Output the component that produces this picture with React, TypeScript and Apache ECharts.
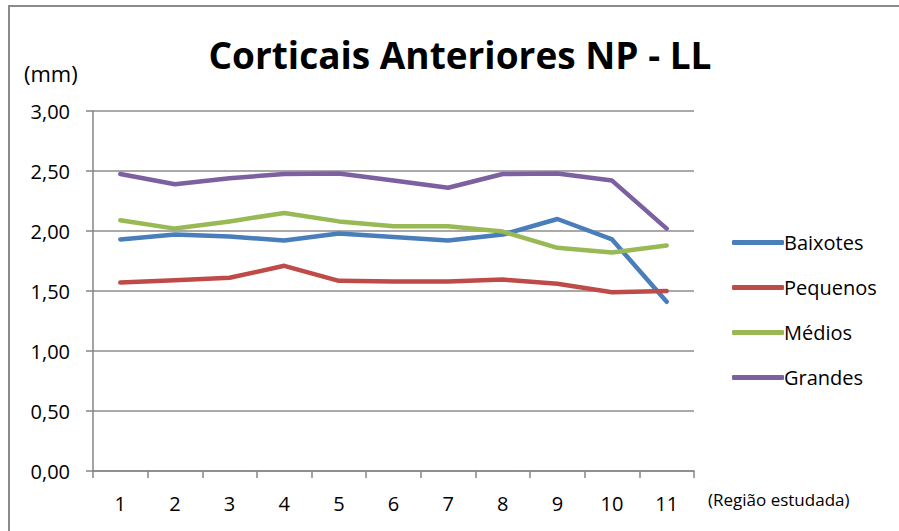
import React, { useEffect, useRef } from "react";
import * as echarts from "echarts";

const categories = ["1", "2", "3", "4", "5", "6", "7", "8", "9", "10", "11"];
const baixotes = [1.93, 1.97, 1.955, 1.92, 1.98, 1.95, 1.92, 1.97, 2.1, 1.93, 1.41];
const pequenos = [1.57, 1.59, 1.61, 1.71, 1.585, 1.58, 1.58, 1.595, 1.56, 1.49, 1.5];
const medios = [2.09, 2.02, 2.08, 2.15, 2.08, 2.04, 2.04, 1.995, 1.86, 1.82, 1.88];
const grandes = [2.475, 2.39, 2.44, 2.475, 2.48, 2.42, 2.36, 2.475, 2.48, 2.42, 2.02];
const seriesNames = ["Baixotes", "Pequenos", "Médios", "Grandes"];
const colors = ["#4A7EBB", "#BE4B48", "#98B954", "#7D60A0"];

const FONT = "'Open Sans', sans-serif";

export default function App() {
  const ref = useRef<HTMLDivElement>(null);
  useEffect(() => {
    if (!ref.current) return;
    const chart = echarts.init(ref.current, undefined, { renderer: "svg" });
    const data = [baixotes, pequenos, medios, grandes];
    chart.setOption({
      animation: false,
      backgroundColor: "#ffffff",
      textStyle: { fontFamily: FONT },
      grid: { left: 93, top: 111, width: 601, height: 360, containLabel: false },
      xAxis: {
        type: "category",
        data: categories,
        boundaryGap: true,
        axisLine: { lineStyle: { color: "#868686", width: 1.5 } },
        axisTick: { show: true, interval: 0, length: 7, lineStyle: { color: "#868686", width: 1.5 } },
        axisLabel: { color: "#000", fontSize: 20, fontFamily: FONT, margin: 22, interval: 0 },
        splitLine: { show: false },
      },
      yAxis: {
        type: "value",
        min: 0,
        max: 3,
        interval: 0.5,
        axisLine: { show: true, lineStyle: { color: "#868686", width: 1.5 } },
        axisTick: { show: true, length: 7, lineStyle: { color: "#868686", width: 1.5 } },
        axisLabel: {
          color: "#000",
          fontSize: 20,
          fontFamily: FONT,
          margin: 23,
          formatter: (v: number) => v.toFixed(2).replace(".", ","),
        },
        splitLine: { show: true, lineStyle: { color: "#8c8c8c", width: 1.5 } },
      },
      legend: {
        orient: "vertical",
        left: 727,
        top: 227,
        itemWidth: 52,
        itemHeight: 5,
        itemGap: 24,
        icon: "roundRect",
        textStyle: { fontSize: 20, fontFamily: FONT, color: "#000", lineHeight: 21, padding: [0, 0, 0, -5] },
        data: seriesNames,
      },
      series: seriesNames.map((name, i) => ({
        name,
        type: "line",
        data: data[i],
        symbol: "none",
        showSymbol: false,
        smooth: false,
        color: colors[i],
        lineStyle: { color: colors[i], width: 4.5, cap: "round", join: "round" },
        itemStyle: { color: colors[i] },
      })),
      graphic: [
        {
          type: "rect",
          shape: { x: 9, y: 6, width: 1000, height: 1000 },
          style: { fill: "none", stroke: "#8a8a8a", lineWidth: 2 },
          silent: true,
        },
        {
          type: "text",
          x: 460,
          y: 54,
          style: {
            text: "Corticais Anteriores NP - LL",
            font: `bold 37px ${FONT}`,
            fill: "#000",
            align: "center",
            verticalAlign: "middle",
          },
        },
        {
          type: "text",
          x: 24,
          y: 73,
          style: {
            text: "(mm)",
            font: `22px ${FONT}`,
            fill: "#000",
            align: "left",
            verticalAlign: "middle",
          },
        },
        {
          type: "text",
          x: 708,
          y: 499,
          style: {
            text: "(Região estudada)",
            font: `17px ${FONT}`,
            fill: "#000",
            align: "left",
            verticalAlign: "middle",
          },
        },
      ],
    });
    return () => chart.dispose();
  }, []);
  return (
    <div
      ref={ref}
      style={{ position: "fixed", left: 0, top: 0, width: 899, height: 531 }}
    />
  );
}
